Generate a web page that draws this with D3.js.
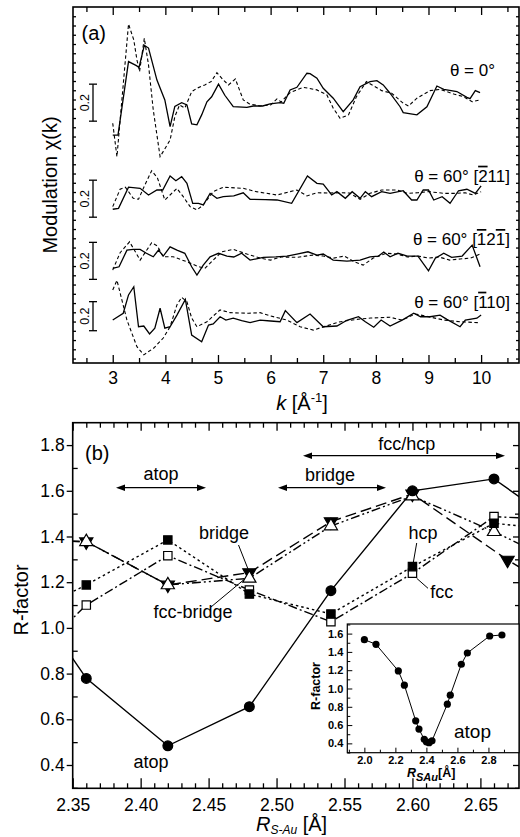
<!DOCTYPE html>
<html><head><meta charset="utf-8">
<script src="https://cdn.jsdelivr.net/npm/d3@7"></script>
<style>
body{margin:0;background:#fff}
svg{display:block}
text{font-family:"Liberation Sans",Arial,Helvetica,sans-serif;fill:#000}
</style>
</head><body><svg id="c" width="520" height="837"></svg>
<script>
// ---------------- Panel (a) data ----------------
const kTicks = [3,4,5,6,7,8,9,10];
const kMinor = [2.5,3.5,4.5,5.5,6.5,7.5,8.5,9.5,10.5];
const curveLabels = ["θ = 0°","θ = 60° [211]","θ = 60° [121]","θ = 60° [110]"];
const curveOffsets = [-0.017,-0.536,-0.872,-1.171];
const barLengths = [0.2,0.2,0.2,0.157];
const barLabel = "0.2";

const c1ExpK = [3.0,3.1,3.3,3.45,3.5,3.6,3.68,3.84,3.99,4.09,4.18,4.31,4.41,4.5,4.6,4.69,4.79,4.88,5.01,5.13,5.29,5.55,5.67,5.85,5.99,6.18,6.25,6.37,6.5,6.69,6.75,6.88,7.0,7.19,7.38,7.57,7.7,7.89,8.02,8.14,8.27,8.46,8.52,8.78,8.97,9.16,9.29,9.54,9.73,9.79,9.89,9.98];
const c1ExpV = [-0.175,-0.175,0.222,0.2,0.19,0.31,0.295,0.122,0.015,-0.13,-0.02,0,-0.012,-0.115,-0.12,-0.066,0.005,0.032,0.1,0.04,-0.022,-0.025,-0.018,-0.018,-0.007,0,-0.003,0.069,0.083,0.159,0.157,0.132,0.078,0.024,-0.049,0.015,0.086,0.114,0.119,0.096,0.051,-0.022,-0.054,-0.066,-0.022,0.09,0.072,0.06,0.029,0.022,0.065,0.054];
const c1ThK = [3.0,3.08,3.3,3.4,3.46,3.51,3.6,3.68,3.77,3.9,4.0,4.09,4.18,4.27,4.37,4.5,4.6,4.75,4.87,4.98,5.1,5.2,5.33,5.48,5.6,5.8,6.0,6.12,6.2,6.37,6.62,6.88,7.07,7.19,7.32,7.48,7.63,7.82,8.11,8.3,8.52,8.62,8.78,9.03,9.22,9.48,9.67,9.83,9.98];
const c1ThV = [-0.111,-0.292,0.425,0.339,0.231,0.168,0.348,0.204,-0.039,-0.292,-0.245,-0.202,-0.076,-0.012,-0.029,0.059,0.078,0.096,0.114,0.162,0.123,0.096,0.128,0.015,-0.007,-0.018,-0.012,0.02,0.004,0.054,0.083,0.069,0.042,-0.03,-0.084,-0.066,0.032,0.114,0.065,0.051,-0.003,-0.018,0.024,0.065,0.072,0.047,0.032,0.005,0.015];

const c2ExpK = [3.0,3.11,3.3,3.52,3.68,3.84,3.95,4.09,4.2,4.31,4.41,4.52,4.63,4.72,4.85,4.98,5.1,5.3,5.48,5.61,5.9,6.12,6.4,6.7,6.88,7.0,7.16,7.26,7.42,7.55,7.7,7.8,7.92,8.11,8.27,8.52,8.68,8.78,8.9,9.0,9.1,9.26,9.41,9.57,9.73,9.89,10.0];
const c2ExpV = [-0.057,-0.052,0.062,0.056,0.02,0.047,0.047,0.123,0.097,0.119,0.083,-0.025,-0.025,-0.034,0.029,0.002,0.011,0.015,0.032,-0.003,-0.005,-0.007,-0.025,0.123,0.083,0.079,0.02,0.038,0.002,0.038,0.002,0.038,0.011,0.038,0.029,0.043,-0.007,-0.007,0.047,0.047,-0.007,0.011,-0.025,0.043,0.051,0.029,0.069];
const c2ThK = [3.0,3.14,3.24,3.39,3.49,3.61,3.74,3.85,3.99,4.09,4.22,4.34,4.47,4.6,4.72,4.91,5.1,5.48,5.73,6.12,6.37,6.5,6.69,6.88,7.1,7.3,7.5,7.7,7.89,8.11,8.4,8.6,8.8,9.0,9.3,9.5,9.7,9.85,10.0];
const c2ThV = [-0.043,0.051,0.062,0.002,-0.003,0.074,0.151,0.112,-0.007,0.02,0.056,0.011,-0.043,-0.061,-0.034,0.038,0.062,0.056,0.038,0.02,0.038,0.047,0.015,0.032,0.031,0.032,0.031,-0.003,0.029,0.047,0.047,0.029,0.032,0.038,0.029,0.029,0.032,0.02,0.038];

const c3ExpK = [3.0,3.12,3.27,3.39,3.52,3.64,3.77,3.87,3.96,4.09,4.22,4.37,4.5,4.6,4.72,4.85,5.01,5.17,5.3,5.45,5.61,5.86,6.1,6.31,6.5,6.71,6.88,7.0,7.19,7.45,7.7,7.89,8.05,8.15,8.27,8.42,8.6,8.8,9.0,9.13,9.29,9.44,9.64,9.83,9.98];
const c3ExpV = [-0.041,-0.032,0.058,0.062,0.062,0.041,0.022,0.058,0.026,0.076,0.058,0.041,-0.032,-0.077,-0.023,0.022,0.041,0.026,0.021,0.041,0.004,0.019,0.022,0.026,0.037,0.049,0.031,0.037,0.004,-0.001,0.004,0.022,0.026,0.048,0.022,0.041,0.026,0.026,-0.054,0.014,0.041,0.019,0.026,0.085,-0.032];
const c3ThK = [3.0,3.14,3.32,3.52,3.74,3.85,3.96,4.15,4.41,4.6,4.75,4.91,5.07,5.29,5.55,5.8,6.0,6.2,6.5,6.8,7.0,7.2,7.4,7.6,7.76,7.95,8.2,8.4,8.6,8.8,9.0,9.2,9.4,9.6,9.8,9.98];
const c3ThV = [-0.05,0.044,0.103,0.004,0.098,0.08,0.022,0.022,-0.005,-0.028,-0.041,0.004,0.049,0.062,0.037,0.015,0.004,0.021,0.019,0.031,0.026,0.015,0.026,-0.006,-0.023,0.015,0.041,0.037,0.021,0.026,0.015,0.021,0.004,0.01,0.015,0.037];

const c4ExpK = [3.0,3.2,3.3,3.4,3.49,3.59,3.7,3.8,3.9,3.99,4.09,4.22,4.38,4.5,4.69,4.82,4.91,5.04,5.15,5.29,5.45,5.61,5.8,6.0,6.18,6.28,6.5,6.75,7.0,7.26,7.45,7.67,7.8,7.96,8.1,8.27,8.5,8.72,8.85,9.03,9.22,9.35,9.6,9.7,9.92,10.0];
const c4ExpV = [-0.021,0.016,0.115,0.159,-0.057,-0.053,-0.096,-0.065,0.043,-0.065,-0.057,0.006,0.091,-0.102,-0.138,-0.048,-0.042,-0.003,-0.021,-0.011,-0.024,-0.035,-0.021,-0.026,-0.03,0.03,-0.035,0.012,-0.057,-0.053,-0.022,-0.003,-0.03,-0.06,-0.021,-0.053,-0.021,0.016,-0.003,-0.003,0.006,-0.017,-0.057,-0.021,-0.011,0.006];
const c4ThK = [3.0,3.08,3.27,3.46,3.59,3.78,3.96,4.09,4.22,4.31,4.41,4.5,4.6,4.79,5.04,5.23,5.58,5.8,6.0,6.31,6.56,6.81,7.06,7.3,7.64,7.9,8.27,8.5,8.75,9.0,9.3,9.6,9.95];
const c4ThV = [0.142,0.194,-0.021,-0.165,-0.209,-0.172,-0.118,-0.057,0.061,0.102,0.078,-0.01,-0.057,-0.03,0.034,0.019,0.016,0.019,0.001,-0.021,-0.057,-0.075,-0.053,-0.031,-0.017,-0.01,-0.006,-0.021,0.012,-0.003,-0.021,-0.03,-0.035];

// ---------------- Panel (b) data ----------------
const rTicks = [2.35,2.40,2.45,2.50,2.55,2.60,2.65];
const rfTicks = [0.4,0.6,0.8,1.0,1.2,1.4,1.6,1.8];
const rGrid = [2.30,2.36,2.42,2.48,2.54,2.60,2.66,2.72];
const atopR = [1.30,0.779,0.484,0.655,1.163,1.60,1.652,1.40];
const fccR  = [0.75,1.10,1.316,1.166,1.027,1.239,1.487,1.47];
const hcpR  = [1.01,1.188,1.385,1.148,1.061,1.268,1.458,1.42];
const bridgeX = [2.30,2.36,2.42,2.48,2.54,2.60,2.67,2.72];
const bridgeR = [1.39,1.377,1.188,1.242,1.465,1.586,1.297,1.12];
const fccBridgeR = [1.39,1.377,1.188,1.217,1.446,1.577,1.421,1.25];

// inset
const insetX = [2.0,2.075,2.219,2.258,2.331,2.352,2.386,2.40,2.417,2.436,2.535,2.554,2.625,2.664,2.808,2.887];
const insetR = [1.534,1.483,1.192,1.036,0.647,0.556,0.444,0.417,0.407,0.428,0.829,0.927,1.265,1.388,1.574,1.585];
const insetXTicks = [2.0,2.2,2.4,2.6,2.8];
const insetYTicks = [0.4,0.6,0.8,1.0,1.2,1.4,1.6];

// ------------------------------------------------
const svg = d3.select('#c');
const FS_TICK = 17.5;

// ===== Panel (a) =====
const aL=73, aR=519, aT=7, aB=363;
const xA = d3.scaleLinear().domain([2.245,10.72]).range([aL,aR]);
const yA = d3.scaleLinear().domain([-1.424,0.5]).range([aB,aT]);
const gA = svg.append('g');

gA.append('g').attr('transform',`translate(0,${aB})`)
  .call(d3.axisBottom(xA).tickValues(kTicks).tickSize(-8).tickPadding(8.5).tickFormat(d3.format('d')));
gA.append('g').attr('transform',`translate(0,${aB})`)
  .call(d3.axisBottom(xA).tickValues(kMinor).tickSize(-5).tickFormat(''));
gA.append('g').attr('transform',`translate(0,${aT})`)
  .call(d3.axisTop(xA).tickValues(kTicks).tickSize(-8).tickFormat(''));
gA.append('g').attr('transform',`translate(0,${aT})`)
  .call(d3.axisTop(xA).tickValues(kMinor).tickSize(-5).tickFormat(''));
const sideTicks = d3.range(-1.40,0.5,0.05);
gA.append('g').attr('transform',`translate(${aL},0)`)
  .call(d3.axisLeft(yA).tickValues(sideTicks).tickSize(-3).tickFormat(''));
gA.append('g').attr('transform',`translate(${aR},0)`)
  .call(d3.axisRight(yA).tickValues(sideTicks).tickSize(-3).tickFormat(''));
gA.selectAll('.domain').remove();
gA.selectAll('.tick line').attr('stroke','#000').attr('stroke-width',1.3);
gA.selectAll('.tick text').style('font-size',FS_TICK+'px').attr('font-family','"Liberation Sans",Arial,sans-serif');
gA.append('rect').attr('x',aL).attr('y',aT).attr('width',aR-aL).attr('height',aB-aT)
  .attr('fill','none').attr('stroke','#000').attr('stroke-width',1.6);

const curves = [
  [c1ExpK,c1ExpV,c1ThK,c1ThV],
  [c2ExpK,c2ExpV,c2ThK,c2ThV],
  [c3ExpK,c3ExpV,c3ThK,c3ThV],
  [c4ExpK,c4ExpV,c4ThK,c4ThV]
];
curves.forEach((c,i)=>{
  const off = curveOffsets[i];
  const lineExp = d3.line().x((d,j)=>xA(c[0][j])).y((d,j)=>yA(c[1][j]+off));
  const lineTh = d3.line().x((d,j)=>xA(c[2][j])).y((d,j)=>yA(c[3][j]+off));
  gA.append('path').attr('d',lineTh(c[2])).attr('fill','none').attr('stroke','#000')
    .attr('stroke-width',1.1).attr('stroke-dasharray','3.5,2.5');
  gA.append('path').attr('d',lineExp(c[0])).attr('fill','none').attr('stroke','#000')
    .attr('stroke-width',1.3);
  const bx = 93, y1 = yA(off+barLengths[i]/2), y2 = yA(off-barLengths[i]/2);
  gA.append('line').attr('x1',bx).attr('x2',bx).attr('y1',y1).attr('y2',y2).attr('stroke','#000').attr('stroke-width',1.3);
  gA.append('line').attr('x1',bx-4).attr('x2',bx+4).attr('y1',y1).attr('y2',y1).attr('stroke','#000').attr('stroke-width',1.3);
  gA.append('line').attr('x1',bx-4).attr('x2',bx+4).attr('y1',y2).attr('y2',y2).attr('stroke','#000').attr('stroke-width',1.3);
  gA.append('text').attr('transform',`translate(89,${yA(off)}) rotate(-90)`)
    .attr('text-anchor','middle').style('font-size','12.5px').text(barLabel);
});

const labelPos = [[495,76],[510,181.7],[510,245],[510,307.7]];
function thetaLabel(i){
  const t = gA.append('text').attr('x',labelPos[i][0]).attr('y',labelPos[i][1])
    .attr('text-anchor','end').style('font-size','17px');
  const s = curveLabels[i];
  if(i===0){ t.text(s); return; }
  const m = s.match(/^(.*\[)(.*)(\])$/);
  const digits = m[2];
  const bars = i===2 ? [1,0,1] : [1,0,0];
  t.append('tspan').text(m[1]);
  for(let j=0;j<digits.length;j++){
    const sp = t.append('tspan').text(digits[j]);
    if(bars[j]) sp.style('text-decoration','overline');
  }
  t.append('tspan').text(m[3]);
}
[0,1,2,3].forEach(thetaLabel);

gA.append('text').attr('x',81.5).attr('y',39.5).style('font-size','20px').text('(a)');
const kt = gA.append('text').attr('x',302).attr('y',410).attr('text-anchor','middle').style('font-size','20px');
kt.append('tspan').style('font-style','italic').text('k');
kt.append('tspan').text('  [Å');
kt.append('tspan').attr('dy',-8).style('font-size','13px').text('-1');
kt.append('tspan').attr('dy',8).text(']');
gA.append('text').attr('transform','translate(57,185) rotate(-90)').attr('text-anchor','middle')
  .style('font-size','20px').text('Modulation χ(k)');

// ===== Panel (b) =====
const bL=72.7, bR=519, bT=422.7, bB=788.3;
const xB = d3.scaleLinear().domain([2.35,2.6784]).range([bL,bR]);
const yB = d3.scaleLinear().domain([0.298,1.898]).range([bB,bT]);
const gB = svg.append('g');
const rMinor = d3.range(2.35,2.681,0.01).filter(v=>Math.abs(Math.round(v*20)-v*20)>1e-6);
const yMinor = [0.3,0.5,0.7,0.9,1.1,1.3,1.5,1.7];

gB.append('g').attr('transform',`translate(0,${bB})`)
  .call(d3.axisBottom(xB).tickValues(rTicks).tickSize(-10).tickPadding(10).tickFormat(d3.format('.2f')));
gB.append('g').attr('transform',`translate(0,${bB})`)
  .call(d3.axisBottom(xB).tickValues(rMinor).tickSize(-5).tickFormat(''));
gB.append('g').attr('transform',`translate(0,${bT})`)
  .call(d3.axisTop(xB).tickValues(rTicks).tickSize(-8).tickFormat(''));
gB.append('g').attr('transform',`translate(0,${bT})`)
  .call(d3.axisTop(xB).tickValues(rMinor).tickSize(-5).tickFormat(''));
gB.append('g').attr('transform',`translate(${bL},0)`)
  .call(d3.axisLeft(yB).tickValues(rfTicks).tickSize(6).tickPadding(2).tickFormat(d3.format('.1f')));
gB.append('g').attr('transform',`translate(${bL},0)`)
  .call(d3.axisLeft(yB).tickValues(yMinor).tickSize(-5).tickFormat(''));
gB.append('g').attr('transform',`translate(${bR},0)`)
  .call(d3.axisRight(yB).tickValues(rfTicks).tickSize(-6).tickFormat(''));
gB.append('g').attr('transform',`translate(${bR},0)`)
  .call(d3.axisRight(yB).tickValues(yMinor).tickSize(-4).tickFormat(''));
gB.selectAll('.domain').remove();
gB.selectAll('.tick line').attr('stroke','#000').attr('stroke-width',1.3);
gB.selectAll('.tick text').style('font-size',FS_TICK+'px').attr('font-family','"Liberation Sans",Arial,sans-serif');

svg.append('defs').append('clipPath').attr('id','clipB').append('rect')
  .attr('x',bL).attr('y',bT).attr('width',bR-bL).attr('height',bB-bT);
const gD = gB.append('g').attr('clip-path','url(#clipB)');

// marker draw order: bridge, fcc-bridge, fcc, hcp, atop
const series = [
  {x:bridgeX, y:bridgeR, dash:'11,5', sym:d3.symbolTriangle, rot:180, fill:'#000', size:75},
  {x:rGrid, y:fccBridgeR, dash:'9,3,2,3,2,3', sym:d3.symbolTriangle, rot:0, fill:'#fff', size:75},
  {x:rGrid, y:fccR, dash:'9,3,2,3', sym:d3.symbolSquare, rot:0, fill:'#fff', size:70},
  {x:rGrid, y:hcpR, dash:'2.5,3', sym:d3.symbolSquare, rot:0, fill:'#000', size:70},
  {x:rGrid, y:atopR, dash:null, sym:d3.symbolCircle, rot:0, fill:'#000', size:75}
];
series.forEach(s=>{
  const ln = d3.line().x((d,j)=>xB(s.x[j])).y((d,j)=>yB(s.y[j]));
  const p = gD.append('path').attr('d',ln(s.x)).attr('fill','none').attr('stroke','#000').attr('stroke-width',1.4);
  if(s.dash) p.attr('stroke-dasharray',s.dash);
});
series.forEach(s=>{
  s.x.forEach((xv,j)=>{
    if(xv<2.35||xv>2.678) return;
    gD.append('path').attr('d',d3.symbol().type(s.sym).size(s.size)())
      .attr('transform',`translate(${xB(xv)},${yB(s.y[j])}) rotate(${s.rot})`)
      .attr('fill',s.fill).attr('stroke','#000').attr('stroke-width',1.2);
  });
});
gB.append('rect').attr('x',bL).attr('y',bT).attr('width',bR-bL).attr('height',bB-bT)
  .attr('fill','none').attr('stroke','#000').attr('stroke-width',1.6);

const FS_ANN = '18px';
gB.append('text').attr('x',85).attr('y',460).style('font-size','20px').text('(b)');
function dblArrow(x1,x2,y){
  gB.append('line').attr('x1',x1+6).attr('x2',x2-6).attr('y1',y).attr('y2',y).attr('stroke','#000').attr('stroke-width',1.3);
  gB.append('path').attr('d',`M${x1},${y}L${x1+9},${y-3.2}L${x1+9},${y+3.2}Z`).attr('fill','#000');
  gB.append('path').attr('d',`M${x2},${y}L${x2-9},${y-3.2}L${x2-9},${y+3.2}Z`).attr('fill','#000');
}
dblArrow(116,206,487.7);
dblArrow(278,386,487.7);
dblArrow(303,505,455.7);
function ann(t,x,y){ gB.append('text').attr('x',x).attr('y',y).attr('text-anchor','middle').style('font-size',FS_ANN).text(t); }
function leader(x1,y1,x2,y2){ gB.append('line').attr('x1',x1).attr('y1',y1).attr('x2',x2).attr('y2',y2).attr('stroke','#000').attr('stroke-width',1); }
ann('atop',161,479.5);
ann('bridge',330,480.7);
ann('fcc/hcp',406.7,450);
ann('bridge',224,539.3); leader(238.5,545,248,569);
ann('fcc-bridge',193,618.3); leader(211,607,243.5,580);
ann('hcp',423,539); leader(416.7,543,413.3,562.5);
ann('fcc',441.7,598.3); leader(416.7,578.3,428,588.3);
ann('atop',151,768.3);

gB.append('text').attr('transform','translate(28,600) rotate(-90)').attr('text-anchor','middle')
  .style('font-size','20px').text('R-factor');
const rt = gB.append('text').attr('x',256).attr('y',830.5);
rt.append('tspan').style('font-style','italic').style('font-size','20px').text('R');
rt.append('tspan').attr('dy',3).style('font-style','italic').style('font-size','12px').text('S-Au');
rt.append('tspan').attr('dy',-3).style('font-size','20px').text(' [Å]');

// ===== Inset =====
const iL=347.3, iR=519, iT=624, iB=752.7;
const xI = d3.scaleLinear().domain([1.89,2.997]).range([iL,iR]);
const yI = d3.scaleLinear().domain([0.298,1.705]).range([iB,iT]);
const gI = svg.append('g');
gI.append('rect').attr('x',iL).attr('y',iT).attr('width',iR-iL).attr('height',iB-iT).attr('fill','#fff');
const ixMinor = [1.9,2.1,2.3,2.5,2.7,2.9];
const iyMinor = [0.3,0.5,0.7,0.9,1.1,1.3,1.5,1.7];
gI.append('g').attr('transform',`translate(0,${iB})`)
  .call(d3.axisBottom(xI).tickValues(insetXTicks).tickSize(-5).tickPadding(4).tickFormat(d3.format('.1f')));
gI.append('g').attr('transform',`translate(0,${iB})`)
  .call(d3.axisBottom(xI).tickValues(ixMinor).tickSize(-3).tickFormat(''));
gI.append('g').attr('transform',`translate(${iL},0)`)
  .call(d3.axisLeft(yI).tickValues(insetYTicks).tickSize(-5).tickPadding(4).tickFormat(d3.format('.1f')));
gI.append('g').attr('transform',`translate(${iL},0)`)
  .call(d3.axisLeft(yI).tickValues(iyMinor).tickSize(-3).tickFormat(''));
gI.selectAll('.domain').remove();
gI.selectAll('.tick line').attr('stroke','#000').attr('stroke-width',1);
gI.selectAll('.tick text').style('font-size','11px').style('font-weight','bold').attr('font-family','"Liberation Sans",Arial,sans-serif');
gI.append('rect').attr('x',iL).attr('y',iT).attr('width',iR-iL).attr('height',iB-iT)
  .attr('fill','none').attr('stroke','#000').attr('stroke-width',1.2);
const lnI = d3.line().x((d,j)=>xI(insetX[j])).y((d,j)=>yI(insetR[j]));
gI.append('path').attr('d',lnI(insetX)).attr('fill','none').attr('stroke','#000').attr('stroke-width',1);
insetX.forEach((xv,j)=>{
  gI.append('circle').attr('cx',xI(xv)).attr('cy',yI(insetR[j])).attr('r',3.6).attr('fill','#000');
});
gI.append('text').attr('x',472.5).attr('y',738.3).attr('text-anchor','middle').style('font-size','19px').text('atop');
gI.append('text').attr('transform','translate(320,686) rotate(-90)').attr('text-anchor','middle')
  .style('font-size','12.5px').style('font-weight','bold').text('R-factor');
const it = gI.append('text').attr('x',407).attr('y',777).style('font-weight','bold');
it.append('tspan').style('font-style','italic').style('font-size','12.5px').text('R');
it.append('tspan').attr('dy',4).style('font-style','italic').style('font-size','11px').text('SAu');
it.append('tspan').attr('dy',-4).style('font-size','12.5px').text('[Å]');
</script>
</body></html>
